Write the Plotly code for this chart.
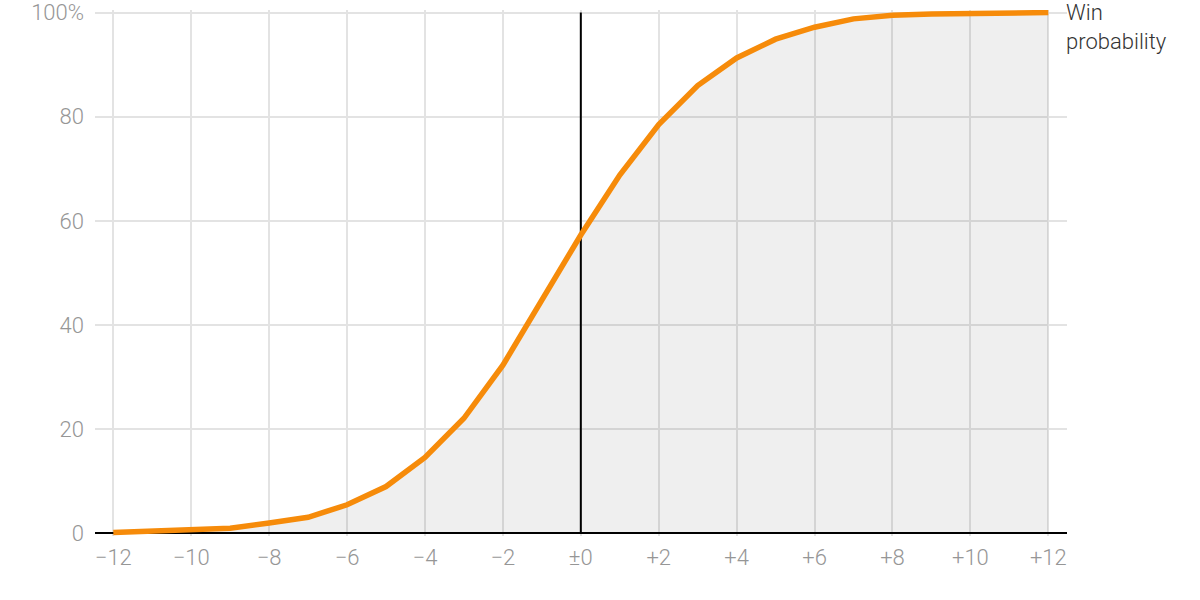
import plotly.graph_objects as go

margin = [-12, -11, -10, -9, -8, -7, -6, -5, -4, -3, -2, -1, 0,
          1, 2, 3, 4, 5, 6, 7, 8, 9, 10, 11, 12]
win_prob = [0.15, 0.35, 0.6, 1.0, 2.0, 3.1, 5.5, 9.0, 14.6, 22.1, 32.3, 44.8, 57.3,
            68.8, 78.5, 86.0, 91.3, 94.9, 97.2, 98.8, 99.5, 99.75, 99.9, 99.95, 100.0]

x_tickvals = [-12, -10, -8, -6, -4, -2, 0, 2, 4, 6, 8, 10, 12]
x_ticktext = ["\u221212", "\u221210", "\u22128", "\u22126", "\u22124", "\u22122", "\u00b10",
              "+2", "+4", "+6", "+8", "+10", "+12"]
y_tickvals = [0, 20, 40, 60, 80, 100]
y_ticktext = ["0", "20", "40", "60", "80", "100%"]
series_label = "Win<br>probability"
ref_x = [0, 0]
ref_y = [0, 100]

fig = go.Figure()
fig.add_trace(go.Scatter(
    x=margin, y=win_prob, mode="lines",
    line=dict(color="rgba(0,0,0,0)", width=0),
    fill="tozeroy", fillcolor="rgba(0,0,0,0.062)",
    hoverinfo="skip", showlegend=False,
))
fig.add_trace(go.Scatter(
    x=ref_x, y=ref_y, mode="lines",
    line=dict(color="black", width=2),
    hoverinfo="skip", showlegend=False,
))
fig.add_trace(go.Scatter(
    x=margin, y=win_prob, mode="lines",
    line=dict(color="#f68b0a", width=5.5),
    showlegend=False,
))

fig.add_annotation(
    x=1, xref="paper", y=100, yref="y", text=series_label,
    showarrow=False, xanchor="left", yanchor="top", align="left",
    xshift=-3, yshift=15,
    font=dict(family="Roboto", size=22, color="#333333", weight=300),
)

fig.update_xaxes(
    range=[-12.47, 12.48], tickvals=x_tickvals, ticktext=x_ticktext,
    showgrid=True, gridcolor="#e3e3e3", gridwidth=1.5,
    zeroline=False, showline=False, ticks="", automargin=False,
    tickfont=dict(family="Roboto", size=22, color="#969696", weight=300),
    ticklabelstandoff=6,
)
fig.update_yaxes(
    range=[-0.5, 100.5], tickvals=y_tickvals, ticktext=y_ticktext,
    showgrid=True, gridcolor="#e3e3e3", gridwidth=1.5,
    zeroline=True, zerolinecolor="black", zerolinewidth=2,
    showline=False, ticks="", automargin=False,
    tickfont=dict(family="Roboto", size=22, color="#969696", weight=300),
    ticklabelstandoff=10,
)
fig.update_layout(
    width=1200, height=600,
    margin=dict(l=95, r=133, t=10, b=64),
    plot_bgcolor="white", paper_bgcolor="white",
    showlegend=False,
)
fig.write_html("out.html", config={"displayModeBar": False},
               post_script="document.body.style.margin='0';")
